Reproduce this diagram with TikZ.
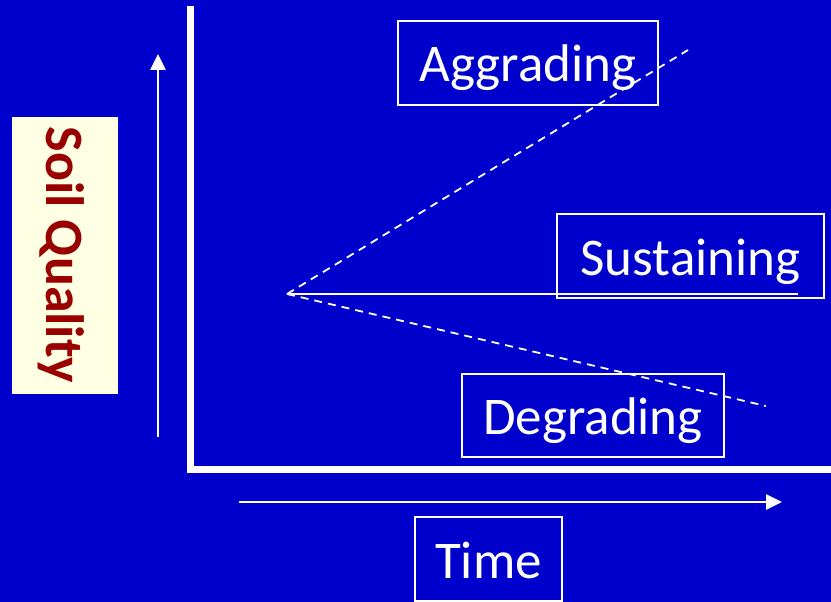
\documentclass[tikz,border=0pt]{standalone}
\usepackage{fontspec}
\setmainfont{Carlito}
\usetikzlibrary{arrows.meta}
\definecolor{slideblue}{HTML}{0000CC}
\definecolor{cream}{HTML}{FFFFE3}
\definecolor{darkred}{HTML}{990000}
\tikzset{
  labelbox/.style={draw=white, line width=1.6pt, text=white, inner sep=0pt,
    text height=40pt, text depth=2pt,
    font=\fontsize{53}{64}\selectfont},
  axisline/.style={white, line width=7pt},
  guidearrow/.style={white, line width=2.6pt, -{Triangle[length=16pt,width=15pt]}},
  trend/.style={white, line width=1.8pt, dash pattern=on 8pt off 6pt},
  level/.style={white, line width=1.8pt}
}
\begin{document}
\begin{tikzpicture}[x=1pt, y=-1pt]
  % background
  \fill[slideblue] (0,0) rectangle (831,602);
  \useasboundingbox (0,0) rectangle (831,602);

  % axes
  \draw[axisline] (190.5,6) -- (190.5,469.5) -- (831,469.5);

  % guide arrows beside the axes
  \coordinate (qlow) at (158,437);
  \coordinate (qhigh) at (158,54);
  \draw[guidearrow] (qlow) -- (qhigh);
  \coordinate (tstart) at (239,502);
  \coordinate (tend) at (782,502);
  \draw[guidearrow] (tstart) -- (tend);

  % trend lines from the common starting point
  \coordinate (start) at (287,294);
  \coordinate (upend) at (688,50);
  \coordinate (flatend) at (798,294);
  \coordinate (downend) at (766,406);
  \draw[trend] (start) -- (upend);
  \draw[level] (start) -- (flatend);
  \draw[trend] (start) -- (downend);

  % labels
  \node[labelbox, minimum width=260pt, minimum height=84pt] (aggr) at (528,63) {Aggrading};
  \node[labelbox, minimum width=267pt, minimum height=84pt] (sust) at (690.5,256) {Sustaining};
  \node[labelbox, minimum width=262pt, minimum height=83pt] (degr) at (593,415.5) {Degrading};
  \node[labelbox, minimum width=147pt, minimum height=84pt] (time) at (488.5,559) {Time};
  \node[fill=cream, draw=white!70!cream, line width=0.8pt, text=darkred, inner sep=0pt,
        rotate=-90, minimum width=276pt, minimum height=105pt,
        text height=38pt, text depth=2pt,
        font=\bfseries\fontsize{54}{64}\selectfont] (quality) at (64.5,255) {Soil Quality};
\end{tikzpicture}
\end{document}
